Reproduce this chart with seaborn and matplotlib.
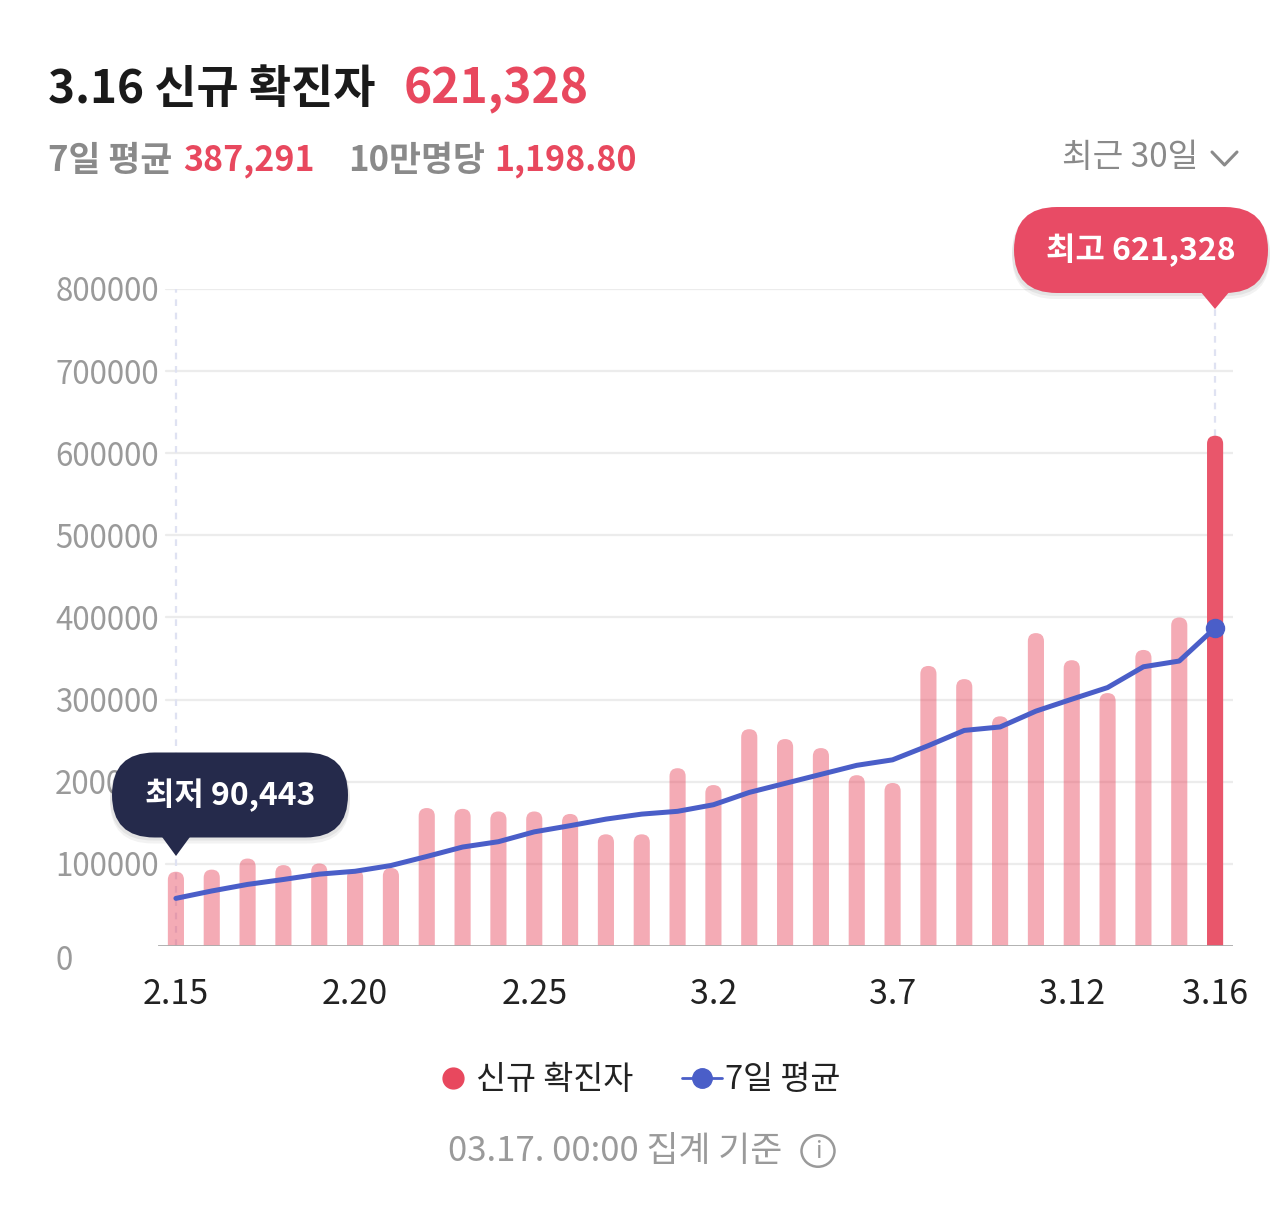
import numpy as np
import matplotlib
matplotlib.use("Agg")
import matplotlib.pyplot as plt
import matplotlib.transforms as mtransforms
import seaborn as sns
from matplotlib.patches import FancyBboxPatch, Polygon, Circle
from matplotlib.lines import Line2D

sns.set_style("white")
plt.rcParams["font.family"] = ["Noto Sans CJK KR", "DejaVu Sans"]

dates = ["2.15", "2.16", "2.17", "2.18", "2.19", "2.20", "2.21", "2.22", "2.23", "2.24",
         "2.25", "2.26", "2.27", "2.28", "3.1", "3.2", "3.3", "3.4", "3.5", "3.6",
         "3.7", "3.8", "3.9", "3.10", "3.11", "3.12", "3.13", "3.14", "3.15", "3.16"]
new_cases = [90443, 93000, 106500, 98500, 100500, 93500, 95000, 168000, 167000, 163800,
             163800, 160800, 136000, 136000, 216500, 196000, 264000, 252000, 241000, 208000,
             198500, 341000, 325000, 279700, 381000, 348000, 308000, 360500, 400000, 621328]
avg7 = [58000, 67000, 75000, 81000, 87500, 91000, 98000, 109000, 120500, 127000,
        139000, 146500, 154500, 160600, 164000, 172000, 187000, 198000, 209000, 220000,
        226700, 244000, 262500, 266700, 286000, 300500, 314700, 340000, 347000, 387291]
tick_idx = [0, 5, 10, 15, 20, 25, 29]
y_ticks = [0, 100000, 200000, 300000, 400000, 500000, 600000, 700000, 800000]

RED = "#e8485e"
PINK = (232 / 255, 72 / 255, 94 / 255, 0.46)
HIGHLIGHT = "#e9566b"
BLUE = "#4a5ec8"
NAVY = "#252a4b"
GREY = "#8a8a8a"
W, H = 1284, 1225


def fx(px):
    return px / W


def fy(py):
    return 1 - py / H


fig = plt.figure(figsize=(W / 100, H / 100), dpi=100)
ax = fig.add_axes([fx(158), fy(946), fx(1233) - fx(158), fy(289) - fy(946)])

x_pos = np.arange(len(dates))
sns.barplot(x=x_pos, y=new_cases, color=PINK[:3], width=0.45, saturation=1, ax=ax)
ax.set_xlim(-0.5, len(dates) - 0.5)
ax.set_ylim(0, 800000)

# 막대 윗부분 둥글게
bbox = ax.get_window_extent()
asp = (800000 / bbox.height) / (len(dates) / bbox.width)
bars = list(ax.patches)
for i, p in enumerate(bars):
    x, w, h = p.get_x(), p.get_width(), p.get_height()
    r = w / 2
    p.remove()
    fc = HIGHLIGHT if i == len(bars) - 1 else PINK
    ax.add_patch(FancyBboxPatch((x, -r * asp), w, h + r * asp,
                                boxstyle=f"round,pad=0,rounding_size={r}",
                                mutation_aspect=asp, fc=fc, ec="none", zorder=3))

sns.lineplot(x=x_pos, y=avg7, color=BLUE, linewidth=3.6, ax=ax, zorder=4)
ax.plot(x_pos[-1], avg7[-1], "o", color=BLUE, markersize=13, zorder=5)

ax.vlines(0, 0, 800000, colors="#dfe2f2", linestyles=(0, (3, 3)), linewidth=1.6, zorder=1)
ax.vlines(len(dates) - 1, new_cases[-1], 777000, colors="#dfe2f2",
          linestyles=(0, (3, 3)), linewidth=1.6, zorder=1)

for v in y_ticks[1:]:
    ax.axhline(v, xmin=0.007, color="#ececec", linewidth=1.6, zorder=0)
ax.axhline(0, color="#aaaaaa", linewidth=2, zorder=6)

ax.set_xticks(tick_idx)
ax.set_xticklabels([dates[i] for i in tick_idx])
ax.set_yticks(y_ticks)
ax.set_yticklabels([str(v) for v in y_ticks])
ax.tick_params(axis="x", length=0, labelsize=24.5, labelcolor="#222222", pad=22)
ax.tick_params(axis="y", length=0, labelsize=22.5, labelcolor="#9a9a9a", pad=74)
for lbl in ax.get_yticklabels():
    lbl.set_horizontalalignment("left")
ax.get_yticklabels()[0].set_transform(
    ax.get_yticklabels()[0].get_transform()
    + mtransforms.ScaledTranslation(0, -0.11, fig.dpi_scale_trans))
ax.set_xlabel("")
ax.set_ylabel("")
for s in ax.spines.values():
    s.set_visible(False)

# 상단 텍스트
fig.text(fx(48), fy(90), "3.16 신규 확진자", fontsize=33, fontweight="bold",
         color="#1a1a1a", va="center", ha="left")
fig.text(fx(404), fy(90), "621,328", fontsize=34.5, fontweight="bold",
         color=RED, va="center", ha="left")
fig.text(fx(48), fy(160), "7일 평균", fontsize=25, fontweight="bold", color=GREY, va="center")
fig.text(fx(183), fy(160), "387,291", fontsize=24.5, fontweight="bold", color=RED, va="center")
fig.text(fx(348), fy(160), "10만명당", fontsize=25, fontweight="bold", color=GREY, va="center")
fig.text(fx(494), fy(160), "1,198.80", fontsize=24.5, fontweight="bold", color=RED, va="center")
fig.text(fx(1198), fy(158), "최근 30일", fontsize=24, color=GREY, va="center", ha="right")
fig.add_artist(Line2D([fx(1212), fx(1224.5), fx(1237)], [fy(152), fy(165), fy(152)],
                      color=GREY, linewidth=2.2, transform=fig.transFigure))


def tooltip(cx, cy, w, h, tip_x, tip_y, color, label):
    for dy, a in [(6, 0.05), (3, 0.06)]:
        fig.add_artist(FancyBboxPatch((fx(cx - w / 2 - 2), fy(cy + h / 2 + dy)), (w + 4) / W, h / H,
                                      boxstyle=f"round,pad=0,rounding_size={h / 2 / W}",
                                      mutation_aspect=W / H, transform=fig.transFigure,
                                      fc="black", ec="none", alpha=a, zorder=9))
    fig.add_artist(FancyBboxPatch((fx(cx - w / 2), fy(cy + h / 2)), w / W, h / H,
                                  boxstyle=f"round,pad=0,rounding_size={h / 2 / W}",
                                  mutation_aspect=W / H, transform=fig.transFigure,
                                  fc=color, ec="none", zorder=10))
    fig.add_artist(Polygon([(fx(tip_x - 15), fy(cy + h / 2 - 2)), (fx(tip_x + 15), fy(cy + h / 2 - 2)),
                            (fx(tip_x), fy(tip_y))], closed=True, transform=fig.transFigure,
                           fc=color, ec="none", zorder=10))
    fig.text(fx(cx), fy(cy), label, fontsize=23, fontweight="bold", color="white",
             ha="center", va="center", zorder=11)


tooltip(1141, 250, 254, 86, 1215, 309, "#e84b65", "최고 621,328")
tooltip(230, 795, 236, 85, 176, 856, NAVY, "최저 90,443")

# 범례
handles = [Line2D([], [], marker="o", ls="none", color=RED, markersize=15),
           Line2D([], [], color=BLUE, lw=2, marker="o", markersize=14)]
fig.legend(handles, ["신규 확진자", "7일 평균"], loc="center", bbox_to_anchor=(fx(637), fy(1080)),
           ncol=2, frameon=False, fontsize=23.5, handlelength=1.2, handletextpad=0.1,
           columnspacing=1.5, labelcolor="#222222")

# 하단 기준 시각
fig.text(fx(615), fy(1152), "03.17. 00:00 집계 기준", fontsize=25, color="#9a9a9a",
         ha="center", va="center")
fig.add_artist(Circle((fx(818), fy(1151)), 16.5 / W, transform=fig.transFigure,
                      fill=False, ec="#9a9a9a", lw=1.8))
fig.text(fx(818), fy(1152), "i", fontsize=17, color="#9a9a9a", ha="center", va="center")

fig.savefig("out.png", dpi=100)
